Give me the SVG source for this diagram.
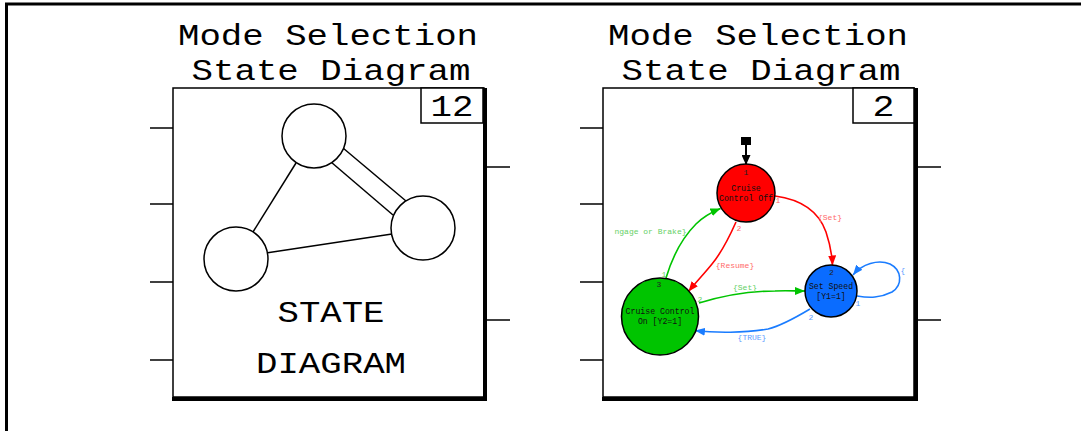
<svg xmlns="http://www.w3.org/2000/svg" width="1081" height="431" viewBox="0 0 1081 431">
<style>
.frame{fill:none;stroke:#000;stroke-width:3}
.blk{fill:#fff;stroke:#000;stroke-width:1.5}
.shadow{fill:none;stroke:#000;stroke-width:4}
.port{stroke:#000;stroke-width:1.5}
.big{font-family:"Liberation Mono",monospace;font-size:29px;fill:#000;text-anchor:middle}
.circ{fill:#fff;stroke:#000;stroke-width:1.5}
.ln{stroke:#000;stroke-width:1.5}
.st{stroke:#000;stroke-width:2}
.nt{font-family:"Liberation Mono",monospace;font-size:8.2px;fill:#111;text-anchor:middle}
.pn{font-family:"Liberation Mono",monospace;font-size:8px;text-anchor:middle}
.e{fill:none;stroke-width:1.6}
.er{stroke:#ff0000}.eg{stroke:#00c400}.eb{stroke:#1a7cff}
.lr{fill:#ff6b6b}.lg{fill:#66d066}.lb{fill:#5c9cff}.ld{fill:#222}
</style>
<defs>
<marker id="ar" markerUnits="userSpaceOnUse" markerWidth="10" markerHeight="8" refX="10" refY="4" orient="auto"><path d="M0,0 L10,4 L0,8 z" fill="#ff0000"/></marker>
<marker id="ag" markerUnits="userSpaceOnUse" markerWidth="10" markerHeight="8" refX="10" refY="4" orient="auto"><path d="M0,0 L10,4 L0,8 z" fill="#00c400"/></marker>
<marker id="ab" markerUnits="userSpaceOnUse" markerWidth="10" markerHeight="8" refX="10" refY="4" orient="auto"><path d="M0,0 L10,4 L0,8 z" fill="#1a7cff"/></marker>
<marker id="ak" markerUnits="userSpaceOnUse" markerWidth="10" markerHeight="9" refX="10" refY="4.5" orient="auto"><path d="M0,0 L10,4.5 L0,9 z" fill="#000"/></marker>
</defs>
<rect width="1081" height="431" fill="#fff"/>
<path class="frame" d="M6.5,431 V4 H1081"/>

<g id="block-left">
<text class="big" x="328" y="45" textLength="300" lengthAdjust="spacingAndGlyphs">Mode Selection</text>
<text class="big" x="331" y="80" textLength="279" lengthAdjust="spacingAndGlyphs">State Diagram</text>
<line class="port" x1="150" y1="128" x2="173" y2="128"/>
<line class="port" x1="150" y1="204" x2="173" y2="204"/>
<line class="port" x1="150" y1="282" x2="173" y2="282"/>
<line class="port" x1="150" y1="360" x2="173" y2="360"/>
<line class="port" x1="487" y1="167" x2="510" y2="167"/>
<line class="port" x1="487" y1="320" x2="510" y2="320"/>
<rect class="blk" x="173" y="88" width="311" height="309"/>
<path class="shadow" d="M485,88 V399 H172"/>
<rect class="blk" x="421" y="88" width="62" height="35"/>
<text class="big" x="452" y="116" textLength="43" lengthAdjust="spacingAndGlyphs">12</text>
<line class="ln" x1="296" y1="163" x2="253" y2="232"/>
<line class="ln" x1="343" y1="148" x2="406" y2="201"/>
<line class="ln" x1="331" y1="162" x2="393" y2="215"/>
<line class="ln" x1="266" y1="253" x2="392" y2="234"/>
<circle class="circ" cx="314" cy="136" r="32"/>
<circle class="circ" cx="423" cy="228" r="32"/>
<circle class="circ" cx="236" cy="259" r="32"/>
<text class="big" x="331" y="322" textLength="107" lengthAdjust="spacingAndGlyphs">STATE</text>
<text class="big" x="331" y="373" textLength="150" lengthAdjust="spacingAndGlyphs">DIAGRAM</text>
</g>

<g id="block-right">
<text class="big" x="758" y="45" textLength="300" lengthAdjust="spacingAndGlyphs">Mode Selection</text>
<text class="big" x="761" y="80" textLength="279" lengthAdjust="spacingAndGlyphs">State Diagram</text>
<line class="port" x1="580" y1="128" x2="603" y2="128"/>
<line class="port" x1="580" y1="204" x2="603" y2="204"/>
<line class="port" x1="580" y1="282" x2="603" y2="282"/>
<line class="port" x1="580" y1="360" x2="603" y2="360"/>
<line class="port" x1="918" y1="167" x2="941" y2="167"/>
<line class="port" x1="918" y1="320" x2="941" y2="320"/>
<rect class="blk" x="603" y="88" width="311" height="309"/>
<path class="shadow" d="M916,88 V399 H602"/>
<rect class="blk" x="853" y="88" width="61" height="35"/>
<text class="big" x="883.5" y="116" textLength="22" lengthAdjust="spacingAndGlyphs">2</text>
</g>

<g id="connectors">
<rect x="741" y="137" width="10" height="8" fill="#000"/>
<line class="st" x1="746" y1="145" x2="746" y2="165" stroke-width="2.5" marker-end="url(#ak)"/>
<path class="e er" d="M775,196 C805,200 820,215 826,232 C830,244 832,252 832.5,265.5" marker-end="url(#ar)"/>
<path class="e er" d="M736,222 C728,240 722,252 712,264 C704,274 696,282 688.5,291.5" marker-end="url(#ar)"/>
<path class="e eg" d="M666,278 C672,258 680,240 696,224 C704,216 712,212 720.5,208.5" marker-end="url(#ag)"/>
<path class="e eg" d="M699,303 C725,295 750,291 775,291 C785,290.5 795,291 805,291" marker-end="url(#ag)"/>
<path class="e eb" d="M810,309 C795,318 780,326 768,329 C745,333 715,333 695,330.5" marker-end="url(#ab)"/>
<path class="e eb" d="M857,296 C870,298 880,298 892,292 C903,285 902,270 890,264 C878,259 862,264 853,275" marker-end="url(#ab)"/>
<text class="pn lr" x="830" y="219.5">{Set}</text>
<text class="pn lr" x="735" y="268">{Resume}</text>
<text class="pn lg" x="650.5" y="234">ngage or Brake}</text>
<text class="pn lg" x="745" y="290">{Set}</text>
<text class="pn lb" x="752" y="339.5">{TRUE}</text>
<text class="pn lb" x="903" y="272.5">{</text>
</g>

<g id="state-cruise-off">
<circle cx="746" cy="193" r="29" fill="#ff0000" stroke="#000" stroke-width="1.5"/>
<text class="nt" x="746" y="190.5">Cruise</text>
<text class="nt" x="746" y="200.5">Control Off</text>
<text class="pn ld" x="746" y="174.5">1</text>
<text class="pn lr" x="778" y="203">1</text>
<text class="pn lr" x="739" y="231">2</text>
</g>

<g id="state-cruise-on">
<circle cx="660" cy="316.5" r="38.5" fill="#00c400" stroke="#000" stroke-width="1.5"/>
<text class="nt" x="660" y="313.5">Cruise Control</text>
<text class="nt" x="660" y="323.5">On [Y2=1]</text>
<text class="pn ld" x="659" y="287">3</text>
<text class="pn lg" x="664" y="276.5">1</text>
<text class="pn lg" x="700" y="302">2</text>
</g>

<g id="state-set-speed">
<circle cx="831" cy="291" r="26" fill="#0a6cff" stroke="#000" stroke-width="1.5"/>
<text class="nt" x="831" y="288.5">Set Speed</text>
<text class="nt" x="831" y="298.5">[Y1=1]</text>
<text class="pn ld" x="831.5" y="274.5">2</text>
<text class="pn lb" x="858" y="305.5">1</text>
<text class="pn lb" x="811" y="319.5">2</text>
</g>
</svg>
